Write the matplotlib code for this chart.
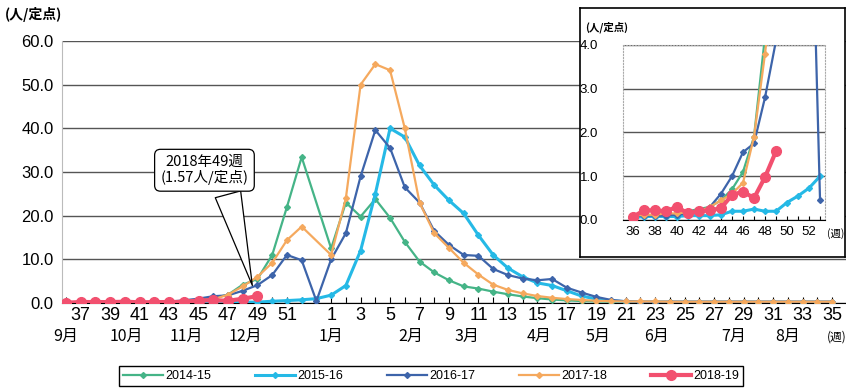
import numpy as np
import matplotlib.pyplot as plt
from matplotlib.transforms import blended_transform_factory

# week slots: 36..52, 53, 1..35
weeks = list(range(36, 54)) + list(range(1, 36))
season_labels = ["2014-15", "2015-16", "2016-17", "2017-18", "2018-19"]

v_1415 = [0.1, 0.1, 0.1, 0.1, 0.15, 0.2, 0.25, 0.3, 0.45, 0.7, 1.1, 1.9, 4.2, 5.5, 11.0, 22.0, 33.4,
          None, 12.5, 23.0, 19.8, 23.8, 19.5, 14.0, 9.5, 7.0, 5.2, 3.8, 3.3, 2.6, 2.0, 1.5, 1.1, 0.8,
          0.6, 0.45, 0.35, 0.3, 0.25, 0.2, 0.2, 0.15, 0.15, 0.1, 0.1, 0.1, 0.1, 0.1, 0.1, 0.1, 0.1, 0.1, 0.1]
v_1516 = [0.05, 0.08, 0.08, 0.08, 0.08, 0.1, 0.1, 0.1, 0.12, 0.2, 0.2, 0.25, 0.2, 0.2, 0.4, 0.55, 0.73,
          1.0, 1.8, 4.0, 12.0, 25.0, 40.0, 38.0, 31.5, 27.0, 23.5, 20.5, 15.5, 11.0, 8.0, 6.0, 4.6, 4.0,
          2.8, 1.6, 0.9, 0.5, 0.3, 0.2, 0.2, 0.2, 0.2, 0.2, 0.2, 0.2, 0.2, 0.2, 0.2, 0.2, 0.2, 0.2, 0.2]
v_1617 = [0.1, 0.1, 0.1, 0.1, 0.12, 0.15, 0.2, 0.3, 0.6, 1.0, 1.55, 1.75, 2.8, 4.1, 6.4, 11.0, 9.8,
          0.45, 10.0, 16.0, 29.0, 39.6, 35.5, 26.5, 23.0, 16.5, 13.3, 11.0, 10.8, 7.8, 6.4, 5.6, 5.2, 5.5,
          3.5, 2.4, 1.4, 0.7, 0.4, 0.3, 0.3, 0.3, 0.3, 0.3, 0.3, 0.3, 0.3, 0.3, 0.3, 0.3, 0.3, 0.3, 0.3]
v_1718 = [0.1, 0.12, 0.12, 0.15, 0.15, 0.18, 0.2, 0.3, 0.45, 0.6, 0.85, 1.9, 3.8, 6.0, 9.2, 14.4, 17.5,
          None, 11.0, 24.0, 50.0, 54.7, 53.3, 40.0, 23.0, 16.0, 12.6, 9.2, 6.5, 4.2, 3.0, 2.2, 1.6, 1.2,
          0.9, 0.7, 0.5, 0.4, 0.35, 0.35, 0.35, 0.3, 0.3, 0.3, 0.3, 0.3, 0.3, 0.3, 0.3, 0.3, 0.3, 0.3, 0.3]
v_1819 = [0.07, 0.22, 0.22, 0.2, 0.3, 0.15, 0.2, 0.22, 0.27, 0.57, 0.65, 0.5, 0.98, 1.57]

month_labels = ["9月", "10月", "11月", "12月", "1月", "2月", "3月", "4月", "5月", "6月", "7月", "8月"]
month_pos = [0, 4.1, 8.2, 12.2, 18, 23.4, 27.2, 32.1, 36.1, 40.1, 45.3, 49]

colors = ["#45B487", "#25B9E6", "#3D64AA", "#F5A95E", "#F2506F"]
series = [v_1415, v_1516, v_1617, v_1718, v_1819]

NUM = ["Liberation Sans Narrow", "Liberation Sans", "DejaVu Sans"]
JP = ["Noto Sans CJK JP", "DejaVu Sans"]
MIX = ["Liberation Sans Narrow", "Noto Sans CJK JP", "DejaVu Sans"]


def draw_series(ax, n=None):
    handles = []
    for vals, c, lab in zip(series, colors, season_labels):
        y = np.array([np.nan if v is None else v for v in vals], dtype=float)
        x = np.arange(len(y))
        if n is not None:
            x, y = x[:n], y[:n]
        ok = np.isfinite(y)
        if lab == "2018-19":
            h, = ax.plot(x[ok], y[ok], color=c, lw=3, marker="o", ms=7, label=lab, zorder=5)
        else:
            lw = 2.2 if lab == "2015-16" else 1.6
            h, = ax.plot(x[ok], y[ok], color=c, lw=lw, marker="D", ms=3, label=lab, zorder=4)
        handles.append(h)
    return handles


fig = plt.figure(figsize=(8.46, 3.89), dpi=100)

# ── main chart ──
ax = fig.add_axes([62 / 846, 86 / 389, 784 / 846, 262 / 389])
handles = draw_series(ax)
ax.set_xlim(-0.27, 52.95)
ax.set_ylim(0, 60)
ax.set_yticks(range(0, 61, 10))
ax.set_yticklabels([f"{v:.1f}" for v in range(0, 61, 10)], fontsize=12, family=NUM)
ax.yaxis.grid(True, color="#555555", lw=1)
ax.set_axisbelow(True)
for s in ["top", "right"]:
    ax.spines[s].set_visible(False)
ax.spines["left"].set_color("#bbbbbb")
ax.spines["bottom"].set_color("black")
ax.tick_params(axis="y", length=0, pad=6)
ax.set_xticks(range(len(weeks)))
ax.set_xticklabels([str(w) if (w % 2 == 1 and w != 53) else "" for w in weeks],
                   fontsize=13, family=NUM)
ax.tick_params(axis="x", direction="in", length=4, pad=3)

tr = blended_transform_factory(ax.transData, ax.transAxes)
for lab, p in zip(month_labels, month_pos):
    ax.text(p, -0.095, lab, transform=tr, ha="center", va="top", fontsize=11.5, family=MIX)
ax.text(52.3, -0.105, "(週)", transform=tr, ha="center", va="top", fontsize=8.5, family=JP)
fig.text(5 / 846, 1 - 15 / 389, "(人/定点)", ha="left", va="center", fontsize=10, family=JP,
         weight="bold")

ax.annotate("2018年49週\n(1.57人/定点)", xy=(12.7, 3.4), xytext=(9.4, 30.4),
            ha="center", va="center", fontsize=10.5, family=MIX, linespacing=1.1,
            bbox=dict(boxstyle="round,pad=0.4", fc="white", ec="black", lw=0.9),
            arrowprops=dict(arrowstyle="wedge,tail_width=1.8,shrink_factor=0.5",
                            fc="white", ec="black", lw=0.9, relpos=(0.74, 0.0)),
            zorder=10)

fig.legend(handles=handles, labels=season_labels, loc="center",
           bbox_to_anchor=(431 / 846, 1 - 376 / 389), ncol=5, frameon=True,
           fancybox=False, edgecolor="black", framealpha=1,
           prop={"family": NUM, "size": 9}, handlelength=3.2, columnspacing=3.5,
           borderpad=0.3, handletextpad=0.2)

# ── inset box ──
box = fig.add_axes([580 / 846, 132 / 389, 265 / 846, 249 / 389])
box.set_xticks([])
box.set_yticks([])
box.set_facecolor("white")
for s in box.spines.values():
    s.set_color("black")
    s.set_linewidth(1.2)

n_in = 18
ins = fig.add_axes([623 / 846, 169 / 389, 202 / 846, 175 / 389])
draw_series(ins, n_in)
ins.set_xlim(-0.9, 17.45)
ins.set_ylim(0, 4)
ins.set_yticks(range(5))
ins.set_yticklabels([f"{v:.1f}" for v in range(5)], fontsize=9.5, family=NUM)
ins.tick_params(axis="y", length=0, pad=18)
ins.yaxis.grid(True, color="#555555", lw=1)
ins.set_axisbelow(True)
ins.set_xticks(range(n_in))
ins.set_xticklabels([str(w) if w % 2 == 0 else "" for w in weeks[:n_in]], fontsize=9.5, family=NUM)
ins.tick_params(axis="x", direction="in", length=3, pad=4)
for s in ["top", "right", "left"]:
    ins.spines[s].set_color("#aaaaaa")
    ins.spines[s].set_linestyle(":")
ins.spines["bottom"].set_color("black")
ins.text(17.6, -0.18, "(週)", ha="left", va="top", fontsize=7.5, family=JP, clip_on=False)
fig.text(585 / 846, 1 - 27 / 389, "(人/定点)", ha="left", va="center", fontsize=7.5, family=JP,
         weight="bold")

fig.savefig("out.png", dpi=100)
